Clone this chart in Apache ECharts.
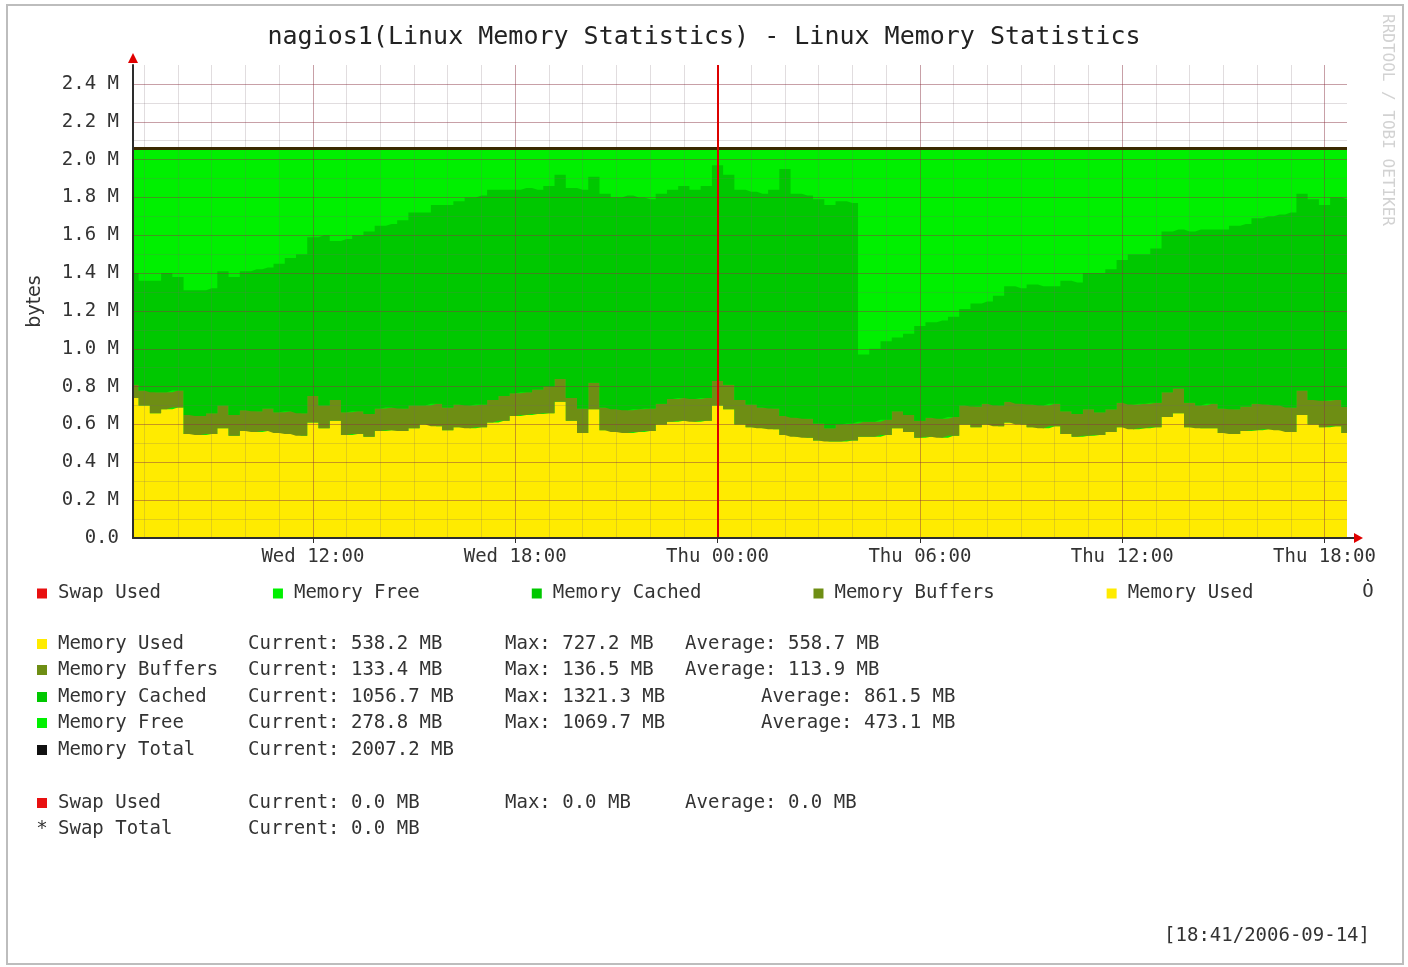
<!DOCTYPE html>
<html>
<head>
<meta charset="utf-8">
<title>nagios1 - Linux Memory Statistics</title>
<script src="https://cdn.jsdelivr.net/npm/echarts@6/dist/echarts.min.js"></script>
<style>
  html, body { margin: 0; padding: 0; background: #fff; }
  #chart { width: 1408px; height: 967px; }
</style>
</head>
<body>
<div id="chart"></div>
<script>
// values in M (millions of KB), one sample every 20 minutes from Wed 06:40 to Thu 18:40
const used = [
  0.74, 0.70, 0.66, 0.68, 0.69, 0.55, 0.545, 0.55, 0.58, 0.54,
  0.565, 0.56, 0.565, 0.555, 0.55, 0.54, 0.61, 0.58, 0.62, 0.545,
  0.55, 0.535, 0.565, 0.57, 0.565, 0.58, 0.60, 0.59, 0.57, 0.585,
  0.58, 0.585, 0.61, 0.62, 0.645, 0.65, 0.655, 0.66, 0.72, 0.62,
  0.555, 0.68, 0.57, 0.56, 0.555, 0.56, 0.565, 0.60, 0.615, 0.62,
  0.615, 0.62, 0.70, 0.68, 0.60, 0.585, 0.58, 0.575, 0.545, 0.535,
  0.53, 0.515, 0.51, 0.51, 0.515, 0.535, 0.535, 0.545, 0.58, 0.56,
  0.53, 0.535, 0.53, 0.54, 0.60, 0.585, 0.60, 0.59, 0.61, 0.60,
  0.585, 0.58, 0.59, 0.55, 0.535, 0.54, 0.545, 0.56, 0.585, 0.575,
  0.58, 0.585, 0.64, 0.66, 0.585, 0.58, 0.58, 0.555, 0.55, 0.565,
  0.57, 0.575, 0.57, 0.56, 0.65, 0.60, 0.585, 0.59, 0.555
];
const buffers = [
  0.07, 0.08, 0.11, 0.09, 0.09, 0.10, 0.10, 0.11, 0.12, 0.11,
  0.11, 0.11, 0.12, 0.11, 0.12, 0.12, 0.14, 0.12, 0.11, 0.12,
  0.12, 0.12, 0.12, 0.12, 0.12, 0.12, 0.10, 0.12, 0.12, 0.12,
  0.12, 0.12, 0.12, 0.13, 0.12, 0.12, 0.13, 0.14, 0.12, 0.12,
  0.13, 0.14, 0.12, 0.12, 0.12, 0.12, 0.12, 0.11, 0.12, 0.12,
  0.12, 0.12, 0.13, 0.13, 0.13, 0.12, 0.11, 0.11, 0.10, 0.10,
  0.10, 0.09, 0.07, 0.09, 0.09, 0.08, 0.08, 0.08, 0.09, 0.09,
  0.09, 0.10, 0.10, 0.10, 0.10, 0.11, 0.11, 0.11, 0.11, 0.11,
  0.12, 0.12, 0.12, 0.12, 0.12, 0.14, 0.12, 0.12, 0.13, 0.13,
  0.13, 0.13, 0.13, 0.13, 0.13, 0.12, 0.13, 0.13, 0.13, 0.13,
  0.14, 0.13, 0.13, 0.13, 0.13, 0.13, 0.14, 0.14, 0.137
];
const cached = [
  0.59, 0.58, 0.59, 0.63, 0.60, 0.66, 0.665, 0.66, 0.71, 0.73,
  0.735, 0.75, 0.745, 0.785, 0.81, 0.84, 0.84, 0.90, 0.84, 0.915,
  0.93, 0.965, 0.965, 0.97, 0.995, 1.02, 1.02, 1.05, 1.07, 1.075,
  1.10, 1.105, 1.11, 1.09, 1.075, 1.08, 1.055, 1.06, 1.08, 1.11,
  1.155, 1.09, 1.13, 1.12, 1.135, 1.12, 1.105, 1.11, 1.105, 1.12,
  1.105, 1.12, 1.14, 1.11, 1.11, 1.125, 1.13, 1.155, 1.305, 1.185,
  1.18, 1.185, 1.18, 1.18, 1.165, 0.355, 0.385, 0.415, 0.39, 0.43,
  0.50, 0.505, 0.52, 0.53, 0.51, 0.545, 0.54, 0.58, 0.61, 0.61,
  0.635, 0.63, 0.62, 0.69, 0.695, 0.72, 0.735, 0.74, 0.755, 0.795,
  0.79, 0.815, 0.85, 0.84, 0.905, 0.93, 0.92, 0.945, 0.97, 0.965,
  0.98, 0.995, 1.01, 1.03, 1.04, 1.06, 1.035, 1.07, 1.098
];
const memTotal = 2.0553;   // 2007.2 MB
const majorTicks = ['Wed 12:00', 'Wed 18:00', 'Thu 00:00', 'Thu 06:00', 'Thu 12:00', 'Thu 18:00'];
const midnight = 'Thu 00:00';

const legendNames = ['Swap Used', 'Memory Free', 'Memory Cached', 'Memory Buffers', 'Memory Used'];
const statNames = ['Memory Used', 'Memory Buffers', 'Memory Cached', 'Memory Free', 'Memory Total', 'Swap Used', 'Swap Total'];
const statCurrent = ['Current: 538.2 MB', 'Current: 133.4 MB', 'Current: 1056.7 MB', 'Current: 278.8 MB', 'Current: 2007.2 MB', 'Current: 0.0 MB', 'Current: 0.0 MB'];
const statMax = ['Max: 727.2 MB', 'Max: 136.5 MB', 'Max: 1321.3 MB', 'Max: 1069.7 MB', '', 'Max: 0.0 MB', ''];
const statAvg = ['Average: 558.7 MB', 'Average: 113.9 MB', 'Average: 861.5 MB', 'Average: 473.1 MB', '', 'Average: 0.0 MB', ''];

// time categories: 20 minute steps starting Wed 06:40
const times = [];
for (let i = 0; i < used.length; i++) {
  const m = 6 * 60 + 40 + i * 20;
  const day = m >= 1440 ? 'Thu' : 'Wed';
  const hm = m % 1440;
  times.push(day + ' ' + String(Math.floor(hm / 60)).padStart(2, '0') + ':' + String(hm % 60).padStart(2, '0'));
}

const C = {
  used: '#FFEB00', buffers: '#6E8E14', cached: '#00C800', free: '#00F000',
  swap: '#E81010', total: '#111111', text: '#333333'
};
const MONO = '"DejaVu Sans Mono", monospace';
const MAJOR = 'rgba(150,30,50,0.32)';
const MINOR = 'rgba(120,100,110,0.22)';

const chart = echarts.init(document.getElementById('chart'));

const isMajor = (i, v) => majorTicks.includes(v);
const isHour = (i, v) => v.endsWith(':00');

function areaSeries(name, data, color) {
  return {
    name, type: 'line', stack: 'mem', data, step: 'middle',
    symbol: 'none', showSymbol: false, z: 2,
    lineStyle: { width: 0 },
    itemStyle: { color },
    areaStyle: { color, opacity: 1 }
  };
}

// stats block below the chart
const rowY = [644, 670, 697, 723, 750, 803, 829];
const rowColor = [C.used, C.buffers, C.cached, C.free, C.total, C.swap, null];
const avgX = [685, 685, 761, 761, 0, 685, 0];
const graphic = [
  { type: 'rect', shape: { x: 7, y: 5, width: 1396, height: 959 }, style: { fill: 'none', stroke: '#bdbdbd', lineWidth: 2 }, silent: true },
  { type: 'text', x: 1387, y: 14, rotation: -Math.PI / 2,
    style: { text: 'RRDTOOL / TOBI OETIKER', font: '16px ' + MONO, fill: '#d2d2d2', textVerticalAlign: 'middle' } },
  { type: 'text', style: { text: 'Ȯ', x: 1368, y: 592, font: '19px ' + MONO, fill: C.text, textAlign: 'center', textVerticalAlign: 'middle' } },
  { type: 'text', style: { text: '[18:41/2006-09-14]', x: 1370, y: 936, font: '19px ' + MONO, fill: C.text, textAlign: 'right', textVerticalAlign: 'middle' } },
  // axis arrows
  { type: 'line', shape: { x1: 1346, y1: 538, x2: 1356, y2: 538 }, style: { stroke: '#2d2d2d', lineWidth: 2 } },
  { type: 'polygon', shape: { points: [[1354, 533], [1363, 538], [1354, 543]] }, style: { fill: '#e00000' } },
  { type: 'polygon', shape: { points: [[128, 63], [133, 53], [138, 63]] }, style: { fill: '#e00000' } }
];
statNames.forEach((n, k) => {
  if (rowColor[k]) {
    graphic.push({ type: 'rect', shape: { x: 37, y: rowY[k] - 5, width: 10, height: 10 }, style: { fill: rowColor[k] } });
  } else {
    graphic.push({ type: 'text', style: { text: '*', x: 42, y: rowY[k], font: '19px ' + MONO, fill: C.text, textAlign: 'center', textVerticalAlign: 'middle' } });
  }
  const cells = [[n, 58], [statCurrent[k], 248], [statMax[k], 505], [statAvg[k], avgX[k]]];
  cells.forEach(([t, x]) => {
    if (t) graphic.push({ type: 'text', style: { text: t, x, y: rowY[k], font: '19px ' + MONO, fill: C.text, textVerticalAlign: 'middle' } });
  });
});

chart.setOption({
  animation: false,
  backgroundColor: '#ffffff',
  title: {
    text: 'nagios1(Linux Memory Statistics) - Linux Memory Statistics',
    left: 'center', top: 20,
    textStyle: { fontFamily: MONO, fontSize: 25, fontWeight: 'normal', color: '#222' }
  },
  legend: {
    data: legendNames, left: 37, top: 584, padding: 0, icon: 'rect',
    itemWidth: 10, itemHeight: 10, itemGap: 112,
    textStyle: { fontFamily: MONO, fontSize: 19, color: C.text, padding: [0, 0, 0, 6] }
  },
  grid: { left: 133, right: 61, top: 65, bottom: 429, containLabel: false, outerBoundsMode: 'none' },
  xAxis: [{
    type: 'category', data: times, boundaryGap: false, z: 5,
    axisLine: { lineStyle: { color: '#2d2d2d', width: 2 } },
    axisTick: { show: true, interval: isMajor, length: 5, lineStyle: { color: '#2d2d2d' } },
    axisLabel: { interval: isMajor, margin: 10, fontFamily: MONO, fontSize: 19, color: C.text },
    splitLine: { show: true, interval: isMajor, lineStyle: { color: MAJOR, width: 1 } }
  }, {
    type: 'category', data: times, boundaryGap: false, z: 4, position: 'bottom',
    axisLine: { show: false }, axisTick: { show: false }, axisLabel: { show: false },
    splitLine: { show: true, interval: isHour, lineStyle: { color: MINOR, width: 1 } }
  }],
  yAxis: [{
    type: 'value', min: 0, max: 2.5, interval: 0.2, z: 5,
    name: 'bytes', nameLocation: 'middle', nameGap: 88,
    nameTextStyle: { fontFamily: '"DejaVu Sans", sans-serif', fontSize: 19, color: C.text },
    axisLine: { show: true, lineStyle: { color: '#2d2d2d', width: 2 } },
    axisTick: { show: false },
    axisLabel: {
      margin: 14, fontFamily: MONO, fontSize: 19, color: C.text, showMaxLabel: false,
      formatter: v => v === 0 ? '0.0' : v.toFixed(1) + ' M'
    },
    splitLine: { show: true, showMinLine: false, showMaxLine: false, lineStyle: { color: MAJOR, width: 1 } }
  }, {
    type: 'value', min: 0, max: 2.5, interval: 0.1, z: 4, position: 'left',
    axisLine: { show: false }, axisTick: { show: false }, axisLabel: { show: false },
    splitLine: { show: true, showMinLine: false, showMaxLine: false, lineStyle: { color: MINOR, width: 1 } }
  }],
  series: [
    { name: 'Swap Used', type: 'line', data: [], itemStyle: { color: C.swap } },
    {
      name: 'Memory Free', type: 'line', data: [], z: 1, itemStyle: { color: C.free },
      markArea: { silent: true, itemStyle: { color: C.free, opacity: 1 }, data: [[{ yAxis: 0 }, { yAxis: memTotal }]] },
      markLine: {
        silent: true, symbol: 'none', label: { show: false },
        lineStyle: { color: '#3a2800', width: 3, type: 'solid' },
        data: [{ yAxis: memTotal }]
      }
    },
    areaSeries('Memory Used', used, C.used),
    areaSeries('Memory Buffers', buffers, C.buffers),
    areaSeries('Memory Cached', cached, C.cached),
    {
      name: 'midnight', type: 'line', data: [], z: 6,
      markLine: {
        silent: true, symbol: 'none', label: { show: false },
        lineStyle: { color: '#dd0000', width: 2, type: 'solid' },
        data: [{ xAxis: midnight }]
      }
    }
  ],
  graphic
});
</script>
</body>
</html>
